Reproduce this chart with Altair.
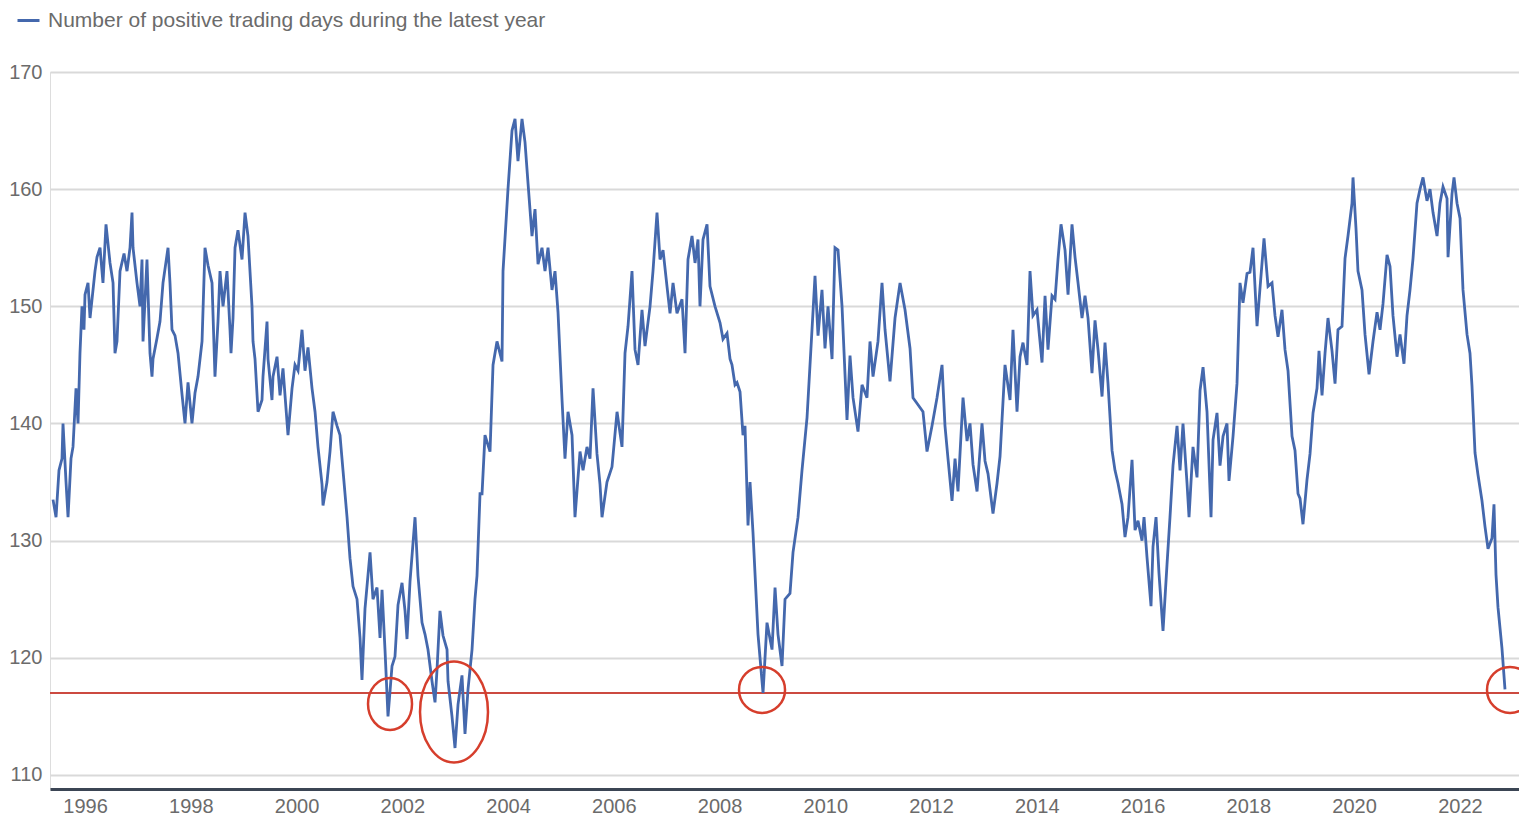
import altair as alt
import pandas as pd

SERIES = "Number of positive trading days during the latest year"

# ---- series: decimal year / number of positive days in trailing year ----
dates_a = [1995.395, 1995.452, 1995.508, 1995.565, 1995.584, 1995.641, 1995.679, 1995.735, 1995.773, 1995.830,
           1995.868, 1995.905, 1995.943, 1995.981, 1996.000, 1996.057, 1996.095, 1996.189, 1996.227, 1996.284,
           1996.340, 1996.397, 1996.473, 1996.530, 1996.567, 1996.605, 1996.662, 1996.738, 1996.794, 1996.851,
           1996.889, 1996.908, 1996.983, 1997.040, 1997.078, 1997.097, 1997.172, 1997.229, 1997.267, 1997.286,
           1997.362, 1997.418, 1997.475, 1997.570, 1997.607, 1997.645, 1997.702, 1997.759, 1997.834, 1997.891,
           1997.948, 1998.023, 1998.080, 1998.137, 1998.213, 1998.269, 1998.326, 1998.402, 1998.458, 1998.515,
           1998.553, 1998.610, 1998.685, 1998.742, 1998.761, 1998.799, 1998.837, 1998.893, 1998.969, 1999.026,
           1999.082, 1999.158]
values_a = [133.5, 132, 136, 137, 140, 135, 132, 137, 138, 143,
            140, 146, 150, 148, 151, 152, 149, 153, 154.2, 155,
            152, 157, 153.7, 152, 146, 147, 153, 154.5, 153, 155,
            158, 155, 152, 150, 154, 147, 154, 146, 144, 145.5,
            147.3, 148.7, 152, 155, 152, 148, 147.5, 146, 142.5, 140,
            143.5, 140, 142.6, 144, 147, 155, 153.5, 152, 144, 148.7,
            153, 150, 153, 148, 146, 149, 155, 156.5, 154, 158,
            156, 150]

dates_b = [1999.177, 1999.215, 1999.272, 1999.347, 1999.366, 1999.442, 1999.461, 1999.536, 1999.555, 1999.631,
           1999.688, 1999.744, 1999.839, 1999.915, 1999.971, 2000.028, 2000.104, 2000.160, 2000.217, 2000.293,
           2000.350, 2000.406, 2000.482, 2000.501, 2000.576, 2000.633, 2000.690, 2000.766, 2000.822, 2000.879,
           2000.955, 2001.011, 2001.068, 2001.144, 2001.201, 2001.238, 2001.295, 2001.390, 2001.446, 2001.522,
           2001.579, 2001.617, 2001.673, 2001.730, 2001.806, 2001.862, 2001.919, 2001.995, 2002.052, 2002.089,
           2002.146, 2002.241, 2002.297, 2002.373, 2002.430, 2002.486, 2002.562, 2002.619, 2002.657, 2002.713,
           2002.770, 2002.846, 2002.865, 2002.940, 2002.997, 2003.054, 2003.129, 2003.186, 2003.243, 2003.319,
           2003.375, 2003.413, 2003.470, 2003.508, 2003.564, 2003.659, 2003.716, 2003.791, 2003.886]
values_b = [147, 145.5, 141, 142, 144, 148.7, 145.5, 142, 144, 145.7,
            142.4, 144.7, 139, 143, 145, 144.5, 148, 144.5, 146.5, 143,
            141, 138, 134.8, 133, 135, 137.6, 141, 139.8, 139, 136,
            132, 128.5, 126.1, 125, 121.7, 118.1, 124.2, 129, 125, 126,
            121.7, 125.8, 120.7, 115, 119.3, 120.1, 124.5, 126.4, 124, 121.6,
            126.5, 132, 127, 123, 122, 120.7, 118, 116.2, 119, 124,
            121.9, 120.7, 118, 115, 112.3, 116, 118.5, 113.5, 117.3, 120.7,
            125, 127, 134, 134, 139, 137.6, 145, 147, 145.3]

dates_c = [2003.905, 2003.999, 2004.075, 2004.132, 2004.188, 2004.264, 2004.321, 2004.378, 2004.453, 2004.510,
           2004.567, 2004.642, 2004.699, 2004.756, 2004.831, 2004.888, 2004.945, 2005.021, 2005.077, 2005.134,
           2005.210, 2005.266, 2005.361, 2005.418, 2005.493, 2005.550, 2005.607, 2005.682, 2005.739, 2005.777,
           2005.871, 2005.966, 2006.061, 2006.155, 2006.212, 2006.269, 2006.344, 2006.401, 2006.458, 2006.533,
           2006.590, 2006.685, 2006.741, 2006.817, 2006.874, 2006.931, 2007.006, 2007.063, 2007.120, 2007.195,
           2007.290, 2007.347, 2007.403, 2007.479, 2007.536, 2007.592, 2007.630, 2007.687, 2007.763, 2007.819,
           2007.914, 2008.009, 2008.065, 2008.141, 2008.198, 2008.235, 2008.292, 2008.330, 2008.387, 2008.443,
           2008.481, 2008.538, 2008.576, 2008.632, 2008.727]
values_c = [153, 160, 165, 166, 162.4, 166, 164, 160.5, 156, 158.3,
            153.6, 155, 153, 155, 151.4, 153, 149.5, 142, 137, 141,
            139, 132, 137.6, 136, 138, 137, 143, 137.4, 134.8, 132,
            135, 136.3, 141, 138, 146, 148.3, 153, 146.3, 145, 149.7,
            146.6, 150, 153, 158, 154, 154.8, 151.7, 149.4, 152, 149.4,
            150.6, 146, 154, 156, 153.7, 155.7, 150, 155.7, 157, 151.7,
            150, 148.6, 147.2, 147.7, 145.5, 145, 143.3, 143.5, 142.7, 139,
            139.8, 131.3, 135, 130.7, 122]

dates_d = [2008.822, 2008.897, 2008.992, 2009.049, 2009.105, 2009.181, 2009.238, 2009.332, 2009.389, 2009.484,
           2009.559, 2009.654, 2009.748, 2009.805, 2009.862, 2009.937, 2009.994, 2010.051, 2010.127, 2010.183,
           2010.240, 2010.316, 2010.410, 2010.467, 2010.524, 2010.618, 2010.694, 2010.788, 2010.845, 2010.902,
           2010.996, 2011.072, 2011.129, 2011.223, 2011.318, 2011.413, 2011.507, 2011.602, 2011.658, 2011.753,
           2011.847, 2011.923, 2012.018, 2012.112, 2012.207, 2012.263, 2012.320, 2012.396, 2012.453, 2012.509,
           2012.604, 2012.680, 2012.736, 2012.793, 2012.869, 2012.963, 2013.020, 2013.077, 2013.171, 2013.247,
           2013.304, 2013.398, 2013.493, 2013.549, 2013.625, 2013.682, 2013.738, 2013.814, 2013.871, 2013.927,
           2014.003]
values_d = [117, 123, 120.7, 126, 122, 119.3, 125, 125.5, 129, 132,
            136, 140.5, 148, 152.6, 147.5, 151.4, 146.4, 150, 145.5, 155,
            154.8, 150, 140.3, 145.8, 142.2, 139.3, 143.3, 142.2, 147, 144,
            147, 152, 148, 143.6, 149, 152, 149.7, 146.4, 142.2, 141.6,
            141, 137.6, 139.8, 142.2, 145, 139.8, 137, 133.4, 137, 134.2,
            142.2, 138.5, 140, 136.5, 134.2, 140, 136.8, 135.7, 132.3, 134.9,
            137.2, 145, 142, 148, 141, 145.7, 146.9, 145, 153, 149.2,
            149.7]

dates_e = [2014.098, 2014.155, 2014.211, 2014.287, 2014.344, 2014.400, 2014.457, 2014.533, 2014.590, 2014.665,
           2014.722, 2014.779, 2014.854, 2014.911, 2014.968, 2015.043, 2015.100, 2015.157, 2015.233, 2015.289,
           2015.346, 2015.422, 2015.478, 2015.535, 2015.611, 2015.667, 2015.724, 2015.800, 2015.857, 2015.913,
           2015.989, 2016.027, 2016.083, 2016.159, 2016.197, 2016.254, 2016.310, 2016.386, 2016.462, 2016.518,
           2016.575, 2016.651, 2016.708, 2016.764, 2016.840, 2016.878, 2016.953, 2017.029, 2017.086, 2017.143,
           2017.218, 2017.294, 2017.332, 2017.407, 2017.464, 2017.521, 2017.596, 2017.634, 2017.710, 2017.785,
           2017.842, 2017.899, 2017.975, 2018.031, 2018.088, 2018.164, 2018.221, 2018.296, 2018.372, 2018.447,
           2018.504, 2018.561, 2018.636, 2018.693, 2018.750, 2018.826, 2018.882, 2018.939]
values_e = [145.2, 150.9, 146.3, 150.9, 150.6, 154, 157, 154.8, 151, 157,
            154.2, 152, 149, 150.9, 149, 144.3, 148.8, 146.3, 142.3, 146.9,
            143.4, 137.7, 136, 134.9, 133.1, 130.3, 132, 136.9, 130.9, 131.7,
            130, 132, 128.6, 124.4, 129.5, 132, 127.2, 122.3, 128, 132,
            136.4, 139.8, 136, 140, 134.9, 132, 138, 135.4, 142.8, 144.8,
            141, 132, 138.6, 140.9, 136.4, 138.9, 140, 135.1, 138.9, 143.4,
            152, 150.3, 152.8, 152.9, 155, 148.3, 151.6, 155.8, 151.7, 152,
            149.2, 147.4, 149.7, 146.3, 144.5, 138.9, 137.7, 134]

dates_f = [2018.977, 2019.033, 2019.109, 2019.166, 2019.223, 2019.298, 2019.336, 2019.393, 2019.450, 2019.506,
           2019.582, 2019.639, 2019.695, 2019.771, 2019.828, 2019.884, 2019.960, 2019.979, 2020.036, 2020.073,
           2020.149, 2020.206, 2020.282, 2020.357, 2020.433, 2020.490, 2020.546, 2020.622, 2020.679, 2020.735,
           2020.811, 2020.868, 2020.943, 2021.000, 2021.057, 2021.114, 2021.189, 2021.246, 2021.303, 2021.378,
           2021.435, 2021.492, 2021.568, 2021.624, 2021.681, 2021.757, 2021.776, 2021.851, 2021.889, 2021.946,
           2022.003, 2022.059, 2022.135, 2022.191, 2022.229, 2022.286, 2022.343, 2022.418, 2022.475, 2022.532,
           2022.607, 2022.645, 2022.683, 2022.721, 2022.796, 2022.853]
values_f = [133.6, 131.4, 135.2, 137.4, 140.9, 143, 146.2, 142.4, 146, 149,
            146.2, 143.4, 148, 148.3, 154.1, 156, 158.8, 161, 156.6, 153,
            151.4, 147.6, 144.2, 147, 149.5, 148, 150.2, 154.4, 153.4, 149.2,
            145.7, 147.6, 145.1, 149.2, 151.4, 154.1, 158.8, 160, 161, 159,
            160, 158, 156, 158.8, 160.2, 159.2, 154.2, 159.6, 161, 158.8,
            157.5, 151.4, 147.6, 146, 143.2, 137.5, 135.6, 133.4, 131.2, 129.3,
            130.2, 133.1, 127.1, 124.3, 120.8, 117.3]

dates = dates_a + dates_b + dates_c + dates_d + dates_e + dates_f
values = values_a + values_b + values_c + values_d + values_e + values_f
assert len(dates) == len(values)

# ---- annotations ----
threshold = [117]
circle_years = [2008.803, 2022.948]
circle_values = [117.26, 117.26]
ellipse1_year, ellipse1_value = [2001.768], [116.06]
ellipse2_year, ellipse2_value = [2002.978], [115.38]

y_ticks = [110, 120, 130, 140, 150, 160, 170]
x_ticks = list(range(1996, 2023, 2))

BLUE = "#4468ad"
RED = "#d63e2c"
FONT = "Liberation Sans, Arial, sans-serif"
LABEL = "#6b6b6b"

df = pd.DataFrame({"year": dates, "days": values, "series": SERIES})

xscale = alt.Scale(domain=[1995.338, 2023.118], nice=False, zero=False)
yscale = alt.Scale(domain=[108.8, 170], nice=False, zero=False)

x_enc = alt.X("year:Q", scale=xscale,
              axis=alt.Axis(values=x_ticks, format="d", title=None, grid=False, ticks=False,
                            domain=True, domainColor="#3b4554", domainWidth=3,
                            labelPadding=7, labelFontSize=20, labelColor=LABEL, labelFont=FONT,
                            labelFlush=False))
y_enc = alt.Y("days:Q", scale=yscale,
              axis=alt.Axis(values=y_ticks, title=None, grid=True, gridColor="#d9d9d9", gridWidth=2,
                            domain=False, ticks=False, labelPadding=8, labelFontSize=20,
                            labelColor=LABEL, labelFont=FONT))

line = alt.Chart(df).mark_line(strokeWidth=2.8).encode(
    x=x_enc, y=y_enc,
    color=alt.Color("series:N",
                    scale=alt.Scale(domain=[SERIES], range=[BLUE]),
                    legend=alt.Legend(title=None, orient="none", legendX=-34, legendY=-64,
                                      symbolType="stroke", symbolSize=484, symbolStrokeWidth=3,
                                      labelFontSize=21, labelColor=LABEL, labelFont=FONT,
                                      labelOffset=7, padding=0, labelLimit=0)),
)

rule = alt.Chart(pd.DataFrame({"v": threshold})).mark_rule(color="#cc4a40", strokeWidth=2).encode(
    y=alt.Y("v:Q", scale=yscale)
)

circles = alt.Chart(pd.DataFrame({"year": circle_years, "days": circle_values})).mark_point(
    shape="circle", filled=False, color=RED, strokeWidth=2.5, size=2116, opacity=1
).encode(x=alt.X("year:Q", scale=xscale), y=alt.Y("days:Q", scale=yscale))

ell1 = alt.Chart(pd.DataFrame({"year": ellipse1_year, "days": ellipse1_value})).mark_point(
    shape="M -0.846 0 A 0.846 1 0 1 1 0.846 0 A 0.846 1 0 1 1 -0.846 0 Z",
    filled=False, color=RED, strokeWidth=2.5, size=2704, opacity=1
).encode(x=alt.X("year:Q", scale=xscale), y=alt.Y("days:Q", scale=yscale))

ell2 = alt.Chart(pd.DataFrame({"year": ellipse2_year, "days": ellipse2_value})).mark_point(
    shape="M -0.673 0 A 0.673 1 0 1 1 0.673 0 A 0.673 1 0 1 1 -0.673 0 Z",
    filled=False, color=RED, strokeWidth=2.5, size=10201, opacity=1
).encode(x=alt.X("year:Q", scale=xscale), y=alt.Y("days:Q", scale=yscale))

chart = alt.layer(rule, line, circles, ell1, ell2).properties(
    width=1469, height=717,
    padding={"left": 42, "top": 64, "right": 0, "bottom": 30},
    autosize=alt.AutoSizeParams(type="none"),
).configure_view(stroke=None).configure(background="white")

chart.save("out.html", embed_options={"renderer": "svg", "actions": False})
